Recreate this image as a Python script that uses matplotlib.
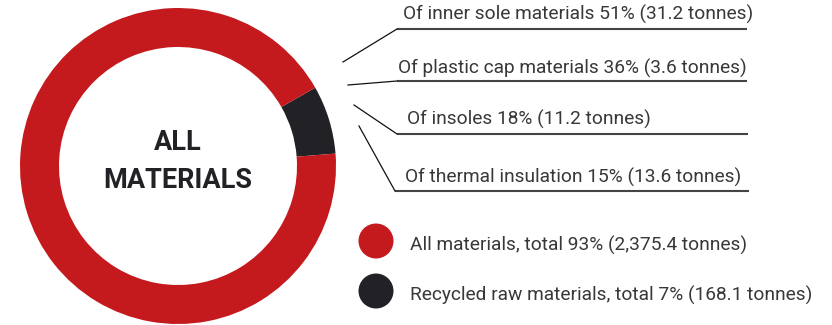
import matplotlib.pyplot as plt
from matplotlib.patches import Circle

# Share of materials
shares = [7, 93]
share_colors = ['#222226', '#C4191D']

legend_labels = ['All materials, total 93% (2,375.4 tonnes)',
                 'Recycled raw materials, total 7% (168.1 tonnes)']
legend_colors = ['#C4191D', '#222226']

# Breakdown of the recycled part
detail_labels = ['Of inner sole materials 51% (31.2 tonnes)',
                 'Of plastic cap materials 36% (3.6 tonnes)',
                 'Of insoles 18% (11.2 tonnes)',
                 'Of thermal insulation 15% (13.6 tonnes)']

W, H = 832, 325
fig = plt.figure(figsize=(W / 100, H / 100), dpi=100)
ax = fig.add_axes([0, 0, 1, 1])

# donut
cx, cy, r = 178, H - 166, 158
ax.pie(shares, colors=share_colors, startangle=4.5, counterclock=True,
       center=(cx, cy), radius=r, frame=True,
       wedgeprops=dict(width=39, linewidth=0))
ax.text(cx, H - 143, 'ALL', ha='center', va='center', fontsize=19.5,
        fontweight='bold', family='Roboto', color='#222226')
ax.text(cx, H - 181, 'MATERIALS', ha='center', va='center', fontsize=19.5,
        fontweight='bold', family='Roboto', color='#222226')

# detail labels with leader lines (in pixels from top)
text_x = [403, 398, 407, 405]
text_y = [14, 68, 119, 177]
under_y = [29, 81, 134, 191]
under_x0 = [397, 397, 397, 395]
under_x1 = [747, 747, 748, 749]
lead_from = [(343, 62), (348, 85), (354, 105), (359, 126)]
for i, lab in enumerate(detail_labels):
    ax.text(text_x[i], H - text_y[i], lab, ha='left', va='center',
            fontsize=13.8, family='Roboto', color='#383838')
    ax.plot([under_x0[i], under_x1[i]], [H - under_y[i]] * 2,
            color='#444444', lw=1.5, solid_capstyle='butt')
    ax.plot([lead_from[i][0], under_x0[i]], [H - lead_from[i][1], H - under_y[i]],
            color='#111111', lw=0.9)

# legend
leg_y = [241, 291]
for i, lab in enumerate(legend_labels):
    ax.add_patch(Circle((376, H - leg_y[i]), 17.5, color=legend_colors[i], lw=0))
    ax.text(410, H - leg_y[i] - 4, lab, ha='left', va='center',
            fontsize=13.8, family='Roboto', color='#383838')

ax.set_xlim(0, W)
ax.set_ylim(0, H)
ax.set_aspect('equal')
ax.axis('off')
fig.savefig('out.png', dpi=100)
